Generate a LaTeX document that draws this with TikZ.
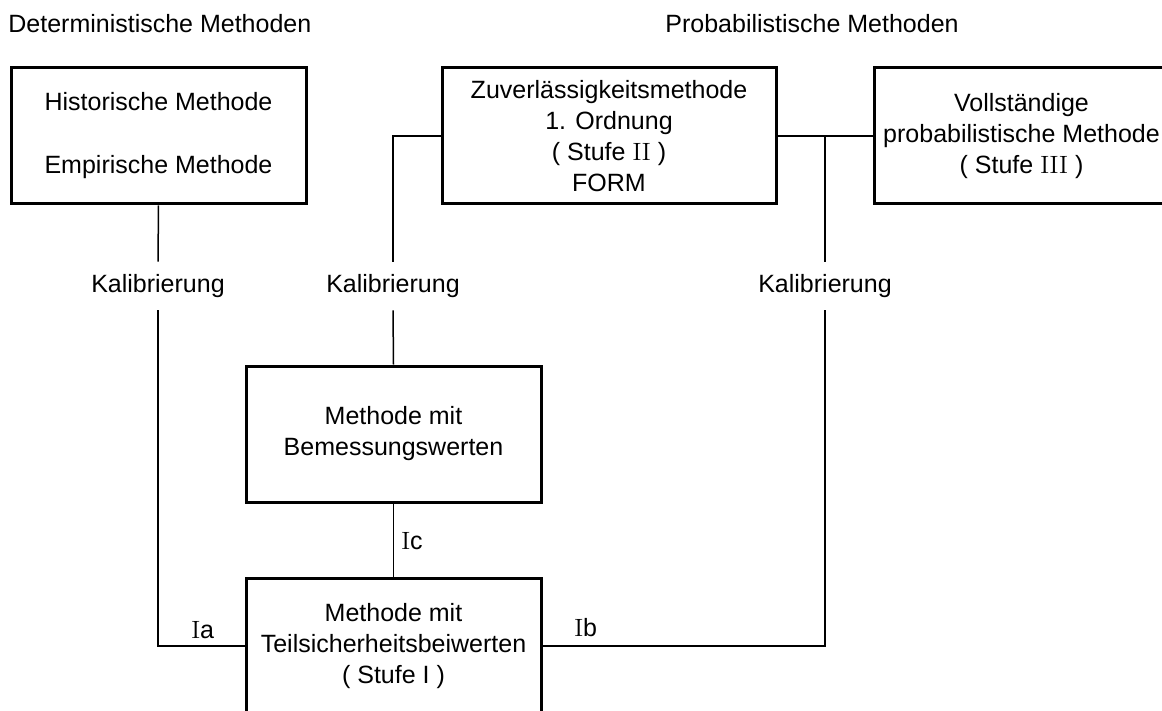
\documentclass[tikz,border=0pt]{standalone}
\usepackage{fontspec}
\setmainfont{Liberation Sans}
\newfontfamily\romfont{Latin Modern Roman}
\usepackage{tikz}
\usetikzlibrary{calc,positioning}
\newcommand{\rn}[1]{{\romfont #1}}
\tikzset{
  box/.style={draw, line width=1.5pt, minimum width=147.5pt, minimum height=68pt, align=center, inner sep=0pt},
  conn/.style={line width=0.75pt},
  kal/.style={inner sep=0pt, minimum height=24pt},
  tag/.style={inner sep=0pt, anchor=west}
}
\begin{document}
\begin{tikzpicture}[x=0.5pt,y=-0.5pt,font=\fontsize{12.5}{15.5}\selectfont]
      \useasboundingbox (0,0) rectangle (1162,711);
      \clip (0,0) rectangle (1162,711);
      %Draw titles
      \node[tag] (det) at (8,24) {Deterministische Methoden};
      \node[tag] (prob) at (665,24) {Probabilistische Methoden};
      %Draw boxes
      \node[box] (hist) at (158.5,136) {Historische Methode\\[16pt]Empirische Methode};
      \node[box, minimum width=167pt] (zuv) at (609,136) {Zuverlässigkeitsmethode\\1. Ordnung\\( Stufe \rn{II} )\\FORM};
      \node[box] (voll) at (1021.5,136) {Vollständige\\probabilistische Methode\\( Stufe \rn{III} )};
      \node[box] (bem) at (393.5,434) {Methode mit\\Bemessungswerten};
      \node[box] (teil) at (393.5,646) {Methode mit\\Teilsicherheitsbeiwerten\\( Stufe I )};
      %Draw labels
      \node[kal] (kal1) at (158,286) {Kalibrierung};
      \node[kal] (kal2) at (393,286) {Kalibrierung};
      \node[kal] (kal3) at (825,286) {Kalibrierung};
      \node[tag] (ia) at (191,630) {\rn{I}a};
      \node[tag] (ib) at (574,628) {\rn{I}b};
      \node[tag] (ic) at (401,541) {\rn{I}c};
      \coordinate (j) at (825,136);
      %Draw lines
      \draw[conn] (hist.south) -- (kal1.north);
      \draw[conn] (kal1.south) |- (teil.west);
      \draw[conn] (zuv.west) -| (kal2.north);
      \draw[conn] (kal2.south) -- (bem.north);
      \draw[conn] (bem.south) -- (teil.north);
      \draw[conn] (zuv.east) -- (voll.west);
      \draw[conn] (j) -- (kal3.north);
      \draw[conn] (kal3.south) |- (teil.east);
    \end{tikzpicture}
\end{document}
